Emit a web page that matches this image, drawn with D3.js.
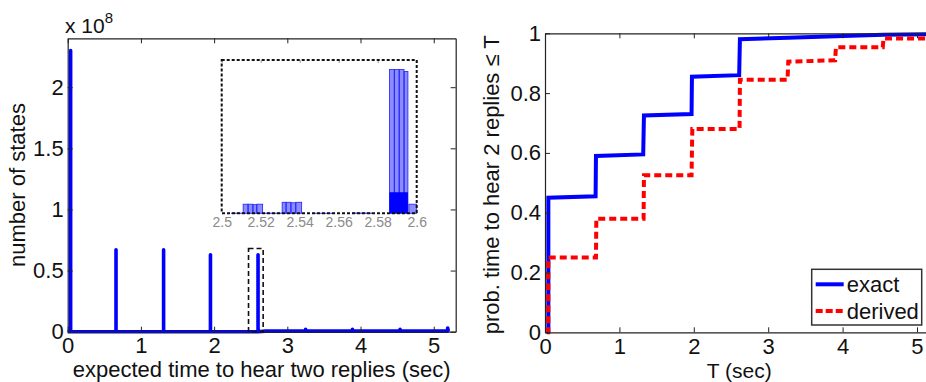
<!DOCTYPE html>
<html>
<head>
<meta charset="utf-8">
<script src="https://cdn.jsdelivr.net/npm/d3@7"></script>
<style>
  body { margin: 0; background: #fff; }
  text { font-family: "Liberation Sans", Arial, sans-serif; }
</style>
</head>
<body>
<svg id="chart" width="926" height="382"></svg>
<script>
// left panel: number of states vs expected time (spikes)
var histT = [0, 0.04, 0.04, 0.04, 0.66, 0.66, 0.66, 1.31, 1.31, 1.31, 1.95, 1.95, 1.95, 2.6, 2.6, 2.6,
             2.7, 3.25, 3.25, 3.25, 3.89, 3.89, 3.89, 4.54, 4.54, 4.54, 5.19, 5.19, 5.2];
var histN = [0, 0, 2.3e8, 0, 0, 0.67e8, 0, 0, 0.67e8, 0, 0, 0.63e8, 0, 0, 0.63e8, 0,
             0.005e8, 0.005e8, 0.02e8, 0.005e8, 0.005e8, 0.02e8, 0.005e8, 0.005e8, 0.02e8, 0.005e8, 0.005e8, 0.03e8, 0.005e8];
var histXTicks = [0, 1, 2, 3, 4, 5];
var histYTicks = [0, 0.5e8, 1e8, 1.5e8, 2e8];

// zoom box on the main plot (time range, count range)
var zoomT = [2.47, 2.67];
var zoomN = [0, 0.68e8];

// inset histogram bins (2.5 .. 2.6 sec)
var insetLo = [2.505, 2.511, 2.5135, 2.516, 2.518, 2.521, 2.531, 2.533, 2.5355, 2.538, 2.548, 2.567, 2.586, 2.5885, 2.591, 2.5935, 2.596];
var insetHi = [2.511, 2.5135, 2.516, 2.518, 2.521, 2.531, 2.533, 2.5355, 2.538, 2.541, 2.558, 2.577, 2.5885, 2.591, 2.5935, 2.5955, 2.6];
var insetN  = [0.02e6, 0.95e6, 0.95e6, 0.9e6, 0.95e6, 0.02e6, 1.15e6, 1.15e6, 1.1e6, 1.15e6, 0.01e6, 0.03e6, 15e6, 15e6, 15e6, 14.8e6, 0.95e6];
var insetDarkLo = [2.586];
var insetDarkHi = [2.5955];
var insetDarkN = [2.2e6];
var insetTicks = [2.5, 2.52, 2.54, 2.56, 2.58, 2.6];

// right panel: cumulative probability
var exactT = [0.045, 0.045, 0.68, 0.685, 1.32, 1.33, 1.97, 1.975, 2.61, 2.62, 3.27, 3.9, 4.55, 5.3];
var exactP = [0, 0.45, 0.455, 0.59, 0.595, 0.725, 0.73, 0.855, 0.86, 0.98, 0.985, 0.99, 0.995, 0.997];
var derivedT = [0.02, 0.045, 0.045, 0.685, 0.69, 1.325, 1.33, 1.97, 1.98, 2.615, 2.62, 3.26, 3.27, 3.9, 3.91, 4.54, 4.55, 5.3];
var derivedP = [0, 0, 0.25, 0.25, 0.38, 0.38, 0.525, 0.525, 0.68, 0.68, 0.845, 0.845, 0.905, 0.91, 0.953, 0.953, 0.983, 0.983];
var cdfXTicks = [0, 1, 2, 3, 4, 5];
var cdfYTicks = [0, 0.2, 0.4, 0.6, 0.8, 1];

var svg = d3.select("#chart");
var FONT = 22;

// draws a matlab style box with inward ticks
function drawBox(g, x, y, xTicks, yTicks, yFmt) {
  var w = x.range()[1], h = y.range()[0];
  g.append("g").attr("transform", "translate(0," + h + ")")
    .call(d3.axisBottom(x).tickValues(xTicks).tickSizeInner(-5).tickSizeOuter(0).tickPadding(6).tickFormat(d3.format("d")));
  g.append("g")
    .call(d3.axisLeft(y).tickValues(yTicks).tickSizeInner(-5).tickSizeOuter(0).tickPadding(4).tickFormat(yFmt));
  g.append("g")
    .call(d3.axisTop(x).tickValues(xTicks).tickSizeInner(-5).tickSizeOuter(0).tickFormat(""));
  g.append("g").attr("transform", "translate(" + w + ",0)")
    .call(d3.axisRight(y).tickValues(yTicks).tickSizeInner(-5).tickSizeOuter(0).tickFormat(""));
  g.selectAll(".domain").attr("stroke", "#222").attr("stroke-width", 1.2);
  g.selectAll(".tick line").attr("stroke", "#222");
  g.selectAll(".tick text").attr("font-size", FONT).attr("fill", "#111")
    .attr("font-family", "Liberation Sans, Arial, sans-serif");
}

// ---------- left panel ----------
var L = {left: 67.7, top: 38.3, width: 388, height: 293.4};
var gl = svg.append("g").attr("transform", "translate(" + L.left + "," + L.top + ")");
var xl = d3.scaleLinear().domain([0, 5.3]).range([0, L.width]);
var yl = d3.scaleLinear().domain([0, 2.4e8]).range([L.height, 0]);

gl.append("path")
  .datum(d3.range(histT.length))
  .attr("fill", "none")
  .attr("stroke", "#0000ff")
  .attr("stroke-width", 3.6)
  .attr("stroke-linejoin", "round")
  .attr("d", d3.line().x(function(i){ return xl(histT[i]); }).y(function(i){ return yl(histN[i]); }));

drawBox(gl, xl, yl, histXTicks, histYTicks, function(d){ return d3.format("~g")(d / 1e8); });

// little dashed zoom box
gl.append("rect")
  .attr("x", xl(zoomT[0])).attr("y", yl(zoomN[1]))
  .attr("width", xl(zoomT[1]) - xl(zoomT[0])).attr("height", yl(zoomN[0]) - yl(zoomN[1]))
  .attr("fill", "none").attr("stroke", "#111").attr("stroke-width", 1.6)
  .attr("stroke-dasharray", "5,3");

// exponent label
var expo = svg.append("text").attr("x", 65).attr("y", 33).attr("font-size", 21).attr("fill", "#111");
expo.append("tspan").text("x 10");
expo.append("tspan").attr("dy", -10).attr("font-size", 15).text("8");

svg.append("text")
  .attr("transform", "translate(25," + (L.top + L.height / 2) + ") rotate(-90)")
  .attr("text-anchor", "middle").attr("font-size", FONT).attr("fill", "#111")
  .text("number of states");
svg.append("text")
  .attr("x", L.left + L.width / 2).attr("y", 377)
  .attr("text-anchor", "middle").attr("font-size", FONT).attr("fill", "#111")
  .text("expected time to hear two replies (sec)");

// inset
var I = {left: 221.7, top: 60, width: 195, height: 153.3};
var gi = svg.append("g").attr("transform", "translate(" + I.left + "," + I.top + ")");
var xi = d3.scaleLinear().domain([2.5, 2.6]).range([0, I.width]);
var yi = d3.scaleLinear().domain([0, 16e6]).range([I.height, 0]);

gi.append("rect").attr("width", I.width).attr("height", I.height).attr("fill", "#fff");
gi.selectAll("rect.bin")
  .data(d3.range(insetLo.length))
  .enter().append("rect").attr("class", "bin")
  .attr("x", function(i){ return xi(insetLo[i]); })
  .attr("y", function(i){ return yi(insetN[i]); })
  .attr("width", function(i){ return xi(insetHi[i]) - xi(insetLo[i]); })
  .attr("height", function(i){ return yi(0) - yi(insetN[i]); })
  .attr("fill", "#0000ff").attr("fill-opacity", 0.45)
  .attr("stroke", "#2020ff").attr("stroke-width", 0.8);
gi.selectAll("rect.dark")
  .data(d3.range(insetDarkLo.length))
  .enter().append("rect").attr("class", "dark")
  .attr("x", function(i){ return xi(insetDarkLo[i]); })
  .attr("y", function(i){ return yi(insetDarkN[i]); })
  .attr("width", function(i){ return xi(insetDarkHi[i]) - xi(insetDarkLo[i]); })
  .attr("height", function(i){ return yi(0) - yi(insetDarkN[i]); })
  .attr("fill", "#0000ff");

var ib = gi.append("g").attr("transform", "translate(0," + I.height + ")")
  .call(d3.axisBottom(xi).tickValues(insetTicks).tickSizeInner(0).tickSizeOuter(0).tickPadding(4).tickFormat(d3.format("~g")));
ib.select(".domain").remove();
ib.selectAll("text").attr("font-size", 14).attr("fill", "#8a8a8a")
  .attr("font-family", "Liberation Sans, Arial, sans-serif");
gi.append("g")
  .call(d3.axisTop(xi).tickValues(insetTicks).tickSizeInner(-3).tickSizeOuter(0).tickFormat(""))
  .call(function(a){ a.select(".domain").remove(); a.selectAll("line").attr("stroke", "#999"); });
gi.append("rect").attr("width", I.width).attr("height", I.height)
  .attr("fill", "none").attr("stroke", "#111").attr("stroke-width", 2)
  .attr("stroke-dasharray", "3,2");

// ---------- right panel ----------
var R = {left: 545, top: 33.3, width: 394.3, height: 299};
var gr = svg.append("g").attr("transform", "translate(" + R.left + "," + R.top + ")");
var xr = d3.scaleLinear().domain([0, 5.3]).range([0, R.width]);
var yr = d3.scaleLinear().domain([0, 1]).range([R.height, 0]);

gr.append("path")
  .datum(d3.range(exactT.length))
  .attr("fill", "none").attr("stroke", "#0000ff").attr("stroke-width", 4)
  .attr("d", d3.line().x(function(i){ return xr(exactT[i]); }).y(function(i){ return yr(exactP[i]); }));
gr.append("path")
  .datum(d3.range(derivedT.length))
  .attr("fill", "none").attr("stroke", "#ff0000").attr("stroke-width", 4)
  .attr("stroke-dasharray", "7,4")
  .attr("d", d3.line().x(function(i){ return xr(derivedT[i]); }).y(function(i){ return yr(derivedP[i]); }));

drawBox(gr, xr, yr, cdfXTicks, cdfYTicks, d3.format("~g"));

svg.append("text")
  .attr("transform", "translate(499," + (R.top + R.height / 2 + 2) + ") rotate(-90)")
  .attr("text-anchor", "middle").attr("font-size", FONT).attr("fill", "#111")
  .text("prob. time to hear 2 replies \u2264 T");
svg.append("text")
  .attr("x", R.left + R.width / 2 - 3).attr("y", 377.5)
  .attr("text-anchor", "middle").attr("font-size", 21).attr("fill", "#111")
  .text("T (sec)");

// legend
var lg = svg.append("g").attr("transform", "translate(811.7,269.3)");
lg.append("rect").attr("width", 110).attr("height", 55.7)
  .attr("fill", "#fff").attr("stroke", "#333").attr("stroke-width", 1.5);
var legendNames = ["exact", "derived"];
var legendColors = ["#0000ff", "#ff0000"];
var legendDash = [null, "7,3"];
legendNames.forEach(function(name, i) {
  var yy = 15 + i * 26.7;
  lg.append("line").attr("x1", 4).attr("x2", 32).attr("y1", yy).attr("y2", yy)
    .attr("stroke", legendColors[i]).attr("stroke-width", 4)
    .attr("stroke-dasharray", legendDash[i]);
  lg.append("text").attr("x", 35).attr("y", yy + 8)
    .attr("font-size", FONT).attr("fill", "#111").text(name);
});
</script>
</body>
</html>
